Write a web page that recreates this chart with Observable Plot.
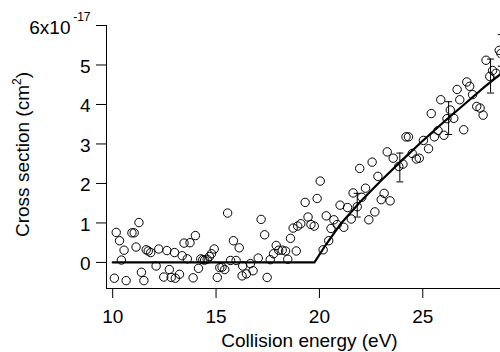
<!DOCTYPE html>
<html>
<head>
<meta charset="utf-8">
<script src="https://cdn.jsdelivr.net/npm/d3@7"></script>
<script src="https://cdn.jsdelivr.net/npm/@observablehq/plot@0.6"></script>
<style>
  html, body { margin: 0; padding: 0; background: #fff; }
  #chart svg { display: block; }
</style>
</head>
<body>
<div id="chart"></div>
<script>
// ---- data ----
const energy = [10.08, 10.17, 10.33, 10.42, 10.55, 10.65, 10.93, 11.04, 11.27, 11.13, 11.39, 11.51, 11.62, 11.72, 11.84, 12.10, 12.23, 12.47, 12.62, 12.74, 12.83, 12.99, 13.03, 13.23, 13.36, 13.45, 13.74, 14.00, 13.61, 13.89, 14.15, 14.26, 14.36, 14.45, 14.57, 14.68, 14.78, 14.91, 15.06, 15.18, 15.29, 15.42, 15.56, 15.70, 15.84, 15.97, 16.12, 16.26, 16.29, 16.47, 16.66, 16.79, 17.04, 17.18, 17.35, 17.47, 17.62, 17.78, 17.91, 18.03, 18.20, 18.36, 18.47, 18.60, 18.73, 18.88, 18.95, 19.10, 19.31, 19.45, 19.59, 19.75, 19.89, 20.04, 20.18, 20.33, 20.45, 20.56, 20.70, 20.86, 21.00, 21.18, 21.36, 21.54, 21.63, 21.83, 21.95, 22.05, 22.23, 22.39, 22.55, 22.68, 22.83, 22.99, 23.13, 23.42, 23.28, 23.57, 23.84, 24.04, 24.19, 24.31, 24.49, 24.69, 24.83, 25.03, 25.28, 25.41, 25.56, 25.74, 25.87, 26.02, 26.17, 26.33, 26.50, 26.66, 26.79, 26.98, 27.13, 27.27, 27.41, 27.61, 27.77, 27.92, 28.06, 28.24, 28.38, 28.54, 28.70, 28.78];
const crossSection = [-0.40, 0.76, 0.55, 0.06, 0.31, -0.46, 0.75, 0.75, 1.01, 0.39, -0.25, -0.46, 0.32, 0.29, 0.25, -0.09, 0.34, -0.37, 0.30, -0.18, -0.38, 0.25, -0.40, -0.30, 0.17, 0.49, 0.50, 0.68, 0.09, -0.39, -0.15, 0.09, 0.07, 0.06, 0.08, 0.15, 0.22, 0.34, -0.38, -0.13, -0.12, -0.18, 1.25, 0.05, 0.55, 0.05, 0.37, -0.34, -0.09, -0.29, -0.03, -0.21, 0.11, 1.09, 0.70, -0.38, 0.07, 0.22, 0.43, 0.31, 0.31, 0.29, 0.08, 0.61, 0.87, 0.29, 0.92, 0.98, 1.52, 1.15, 0.96, 0.92, 1.62, 2.06, 0.32, 1.18, 0.55, 0.86, 1.08, 0.96, 1.45, 0.89, 1.39, 1.10, 1.76, 1.41, 2.38, 1.65, 1.88, 1.08, 2.54, 1.28, 2.18, 1.59, 1.75, 1.56, 2.80, 2.64, 2.43, 2.49, 3.18, 3.18, 2.76, 2.62, 2.64, 3.09, 2.88, 3.77, 3.18, 3.34, 4.12, 3.22, 3.64, 3.86, 3.65, 4.38, 4.12, 3.36, 4.57, 4.46, 4.25, 3.95, 3.91, 3.73, 5.12, 4.71, 4.86, 4.79, 5.37, 5.29];

const fitEnergy = [10, 19.76, 20.2, 21.0, 22.0, 23.0, 24.0, 25.0, 26.0, 27.0, 28.0, 29.0];
const fitCross  = [0, 0, 0.36, 0.96, 1.55, 2.08, 2.59, 3.08, 3.55, 4.00, 4.45, 4.87];

const errEnergy = [21.83, 23.89, 26.25, 28.28, 28.80];
const errLow    = [1.15, 2.04, 3.24, 4.29, 4.97];
const errHigh   = [1.75, 2.77, 4.07, 5.15, 5.77];

const xDomain = [9.7, 28.76];
const yDomain = [-0.66, 6];
const xTicks = [10, 15, 20, 25];
const yTicks = [0, 1, 2, 3, 4, 5, 6];
const yLabelTicks = [0, 1, 2, 3, 4, 5];
const topTick = [6];
const topMantissa = "6x10";
const topExponent = "-17";
const xLabel = "Collision energy (eV)";
const yLabel = "Cross section (cm2)";

// ---- build tables ----
const points = energy.map((e, i) => ({e, cs: crossSection[i]}));
const fit = fitEnergy.map((e, i) => ({e, cs: fitCross[i]}));
const errs = errEnergy.map((e, i) => ({e, lo: errLow[i], hi: errHigh[i]}));

const capSymbol = {
  draw(ctx) { ctx.moveTo(-3.5, 0); ctx.lineTo(3.5, 0); }
};

const font = "'Liberation Sans', Arial, Helvetica, sans-serif";

const chart = Plot.plot({
  width: 500,
  height: 352,
  marginLeft: 106,
  marginTop: 25,
  marginBottom: 64,
  marginRight: 0,
  x: {domain: xDomain},
  y: {domain: yDomain},
  style: {fontFamily: font, fontSize: "19px", color: "black", background: "white"},
  marks: [
    Plot.ruleX([xDomain[0]], {stroke: "black", strokeWidth: 1}),
    Plot.ruleY([yDomain[0]], {stroke: "black", strokeWidth: 1}),
    Plot.axisX({ticks: xTicks, tickSize: 10, tickPadding: 11, tickFormat: "d", label: null, stroke: "black", fill: "black"}),
    Plot.axisY({ticks: yTicks, tickSize: 10, tickFormat: () => "", label: null, stroke: "black"}),
    Plot.axisY({ticks: yLabelTicks, tickSize: 0, tickPadding: 16, tickFormat: "d", dy: 1.6, label: null, fill: "black"}),
    Plot.text(topTick, {y: d => d, frameAnchor: "left", text: () => topMantissa, textAnchor: "end", lineAnchor: "bottom", dx: -36, dy: 8.3, fill: "black"}),
    Plot.text(topTick, {y: d => d, frameAnchor: "left", text: () => topExponent, textAnchor: "end", lineAnchor: "bottom", dx: -16, dy: -4.3, fontSize: 12, fill: "black"}),
    Plot.text([xLabel], {frameAnchor: "bottom", textAnchor: "middle", lineAnchor: "bottom", dx: 6, dy: 58.5, fill: "black"}),
    Plot.text([yLabel], {frameAnchor: "left", textAnchor: "middle", rotate: -90, lineAnchor: "bottom", dx: -77.3, dy: -2.5, fill: "black"}),
    Plot.dot(points, {x: "e", y: "cs", r: 4.2, stroke: "black", strokeWidth: 1, fill: "none"}),
    Plot.line(fit, {x: "e", y: "cs", stroke: "black", strokeWidth: 2.2}),
    Plot.ruleX(errs, {x: "e", y1: "lo", y2: "hi", stroke: "black", strokeWidth: 1}),
    Plot.dot(errs, {x: "e", y: "lo", symbol: capSymbol, stroke: "black", strokeWidth: 1, fill: "none"}),
    Plot.dot(errs, {x: "e", y: "hi", symbol: capSymbol, stroke: "black", strokeWidth: 1, fill: "none"})
  ]
});

// superscript "2" in the y label
chart.querySelectorAll("text").forEach(t => {
  if (t.textContent === yLabel) {
    t.textContent = "";
    const ns = "http://www.w3.org/2000/svg";
    t.appendChild(document.createTextNode("Cross section (cm"));
    const sup = document.createElementNS(ns, "tspan");
    sup.setAttribute("dy", "-8");
    sup.setAttribute("font-size", "12");
    sup.textContent = "2";
    t.appendChild(sup);
    const rest = document.createElementNS(ns, "tspan");
    rest.setAttribute("dy", "8");
    rest.textContent = ")";
    t.appendChild(rest);
  }
});

document.getElementById("chart").appendChild(chart);
</script>
</body>
</html>
